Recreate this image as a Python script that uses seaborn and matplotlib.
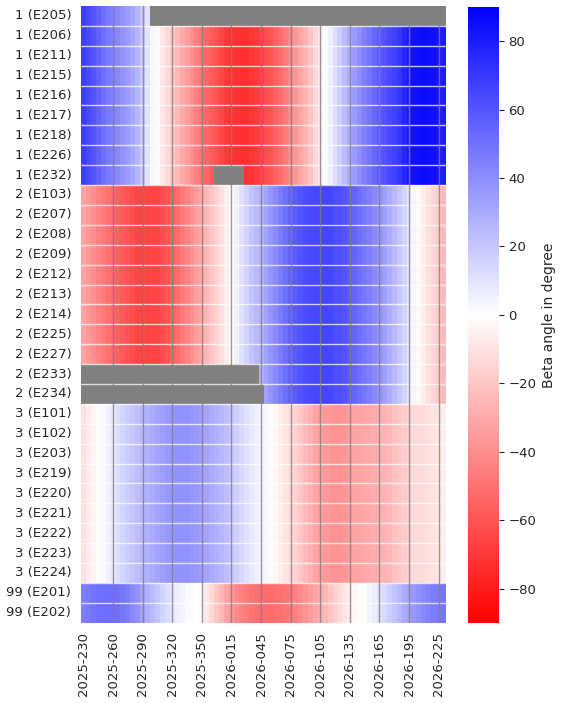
import numpy as np
import pandas as pd
import matplotlib
matplotlib.use("Agg")
import matplotlib.pyplot as plt
import seaborn as sns

# beta angle per orbital plane, one value every 5 days from 2025-230
plane1 = [68, 64, 60, 56, 51, 47, 44, 41, 38, 35, 31, 26, 19, 10, 3, -2, -8, -14, -20, -25,
          -30, -35, -40, -45, -49, -53, -57, -61, -65, -69, -72, -73, -73, -73, -71, -69, -67, -63, -60, -56,
          -52, -47, -42, -37, -32, -27, -21, -14, -7, 0, 6, 12, 18, 24, 30, 35, 40, 45, 49, 54,
          58, 61, 64, 67, 71, 76, 81, 84, 85, 86, 85, 84, 82, 80]
plane2 = [-32, -36, -40, -44, -47, -50, -53, -56, -58, -61, -63, -65, -66, -66, -66, -65, -63, -60, -56, -52,
          -47, -43, -39, -35, -31, -26, -21, -16, -11, -6, -1, 5, 11, 16, 21, 25, 28, 33, 37, 41,
          46, 51, 55, 58, 61, 63, 64, 65, 66, 66, 65, 63, 62, 60, 58, 55, 51, 48, 45, 42,
          39, 34, 29, 25, 20, 15, 9, 3, -2, -7, -11, -15, -19, -24]
plane3 = [-10, -7, -4, -1, 2, 5, 9, 12, 15, 18, 20, 23, 26, 28, 30, 32, 34, 36, 37, 38,
          38, 38, 37, 36, 34, 32, 30, 28, 26, 23, 20, 17, 14, 11, 8, 6, 4, 3, 1, -3,
          -6, -10, -13, -16, -20, -24, -28, -32, -35, -36, -37, -38, -38, -37, -35, -33, -32, -31, -30, -29,
          -28, -27, -25, -22, -20, -18, -16, -14, -13, -12, -11, -10, -9, -6]
plane99 = [45, 47, 49, 50, 51, 51, 51, 50, 48, 46, 42, 38, 33, 28, 24, 20, 16, 12, 9, 6,
           4, 2, 1, 0, -3, -8, -14, -20, -26, -32, -37, -41, -44, -47, -49, -50, -51, -52, -52, -51,
           -50, -49, -47, -44, -41, -38, -35, -32, -29, -25, -21, -17, -13, -9, -6, -3, -1, 1, 4, 7,
           10, 13, 17, 21, 25, 29, 33, 36, 39, 42, 44, 46, 47, 48]

planes = {
    "1": ["E205", "E206", "E211", "E215", "E216", "E217", "E218", "E226", "E232"],
    "2": ["E103", "E207", "E208", "E209", "E212", "E213", "E214", "E225", "E227", "E233", "E234"],
    "3": ["E101", "E102", "E203", "E219", "E220", "E221", "E222", "E223", "E224"],
    "99": ["E201", "E202"],
}
plane_values = {"1": plane1, "2": plane2, "3": plane3, "99": plane99}

# missing data (column index ranges, 5-day steps)
gaps = {"E205": (14, 74), "E232": (27, 33), "E233": (0, 36), "E234": (0, 37)}

days = []
for k in range(len(plane1)):
    d = 230 + 5 * k
    days.append("2025-%03d" % d if d <= 365 else "2026-%03d" % (d - 365))

rows = []
labels = []
for p, sats in planes.items():
    for s in sats:
        r = np.array(plane_values[p], dtype=float)
        if s in gaps:
            r[gaps[s][0]:gaps[s][1]] = np.nan
        rows.append(r)
        labels.append("%s (%s)" % (p, s))

df = pd.DataFrame(rows, index=labels, columns=days)

sns.set_style("white")
plt.rcParams["font.family"] = ["DejaVu Sans"]
plt.rcParams["font.size"] = 9.5

fig = plt.figure(figsize=(5.61, 7.03), dpi=100)
ax = fig.add_axes([0.1444, 0.1142, 0.6506, 0.8773])
cax = fig.add_axes([0.834, 0.1142, 0.0553, 0.8759])
ax.set_facecolor("gray")

sns.heatmap(df, ax=ax, cbar_ax=cax, cmap="bwr_r", vmin=-90, vmax=90,
            xticklabels=6, yticklabels=1,
            cbar_kws={"label": "Beta angle in degree", "ticks": range(-80, 81, 20)})

for i in range(1, len(labels)):
    ax.axhline(i, color="white", lw=1, alpha=0.75)
for x in ax.get_xticks()[1:]:
    ax.axvline(x, color="gray", lw=1, alpha=0.8)

ax.tick_params(axis="both", labelsize=9.5)
ax.tick_params(axis="x", rotation=90)
cax.tick_params(labelsize=9.5)
cax.yaxis.label.set_size(10)
ax.set_xlabel("")
ax.set_ylabel("")

fig.savefig("out.png", dpi=100)
